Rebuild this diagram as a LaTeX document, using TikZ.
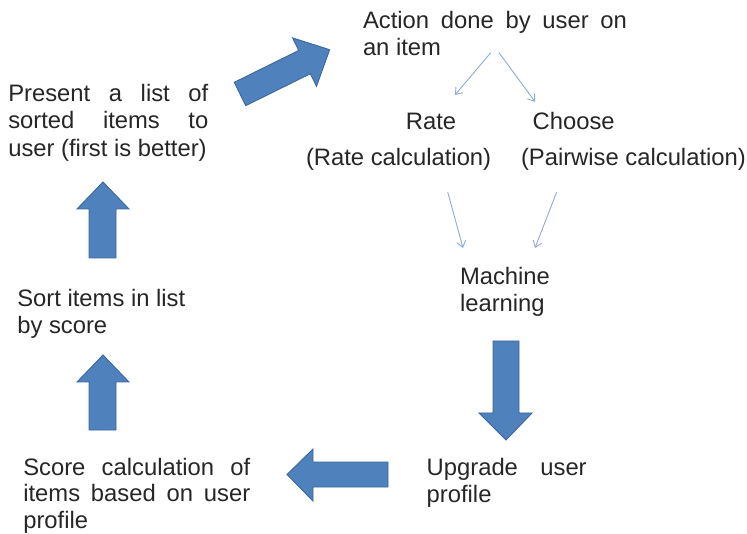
\documentclass[tikz,border=0pt]{standalone}
\usepackage{fontspec}
\setmainfont{Liberation Sans}
\usetikzlibrary{arrows.meta}
\definecolor{blockfill}{HTML}{4F81BD}
\definecolor{blockline}{HTML}{3B679B}
\definecolor{thinline}{HTML}{8FAAD6}
\newcommand{\txtlines}[1]{\parbox[t]{320pt}{#1}}
\newcommand{\jline}[2]{\makebox[#1pt][s]{#2}}
\tikzset{
  lbl/.style={anchor=base west, inner sep=0pt, outer sep=0pt, font=\fontsize{23.8}{27.3}\selectfont, text=black!85},
  blockarrow/.style={fill=blockfill, draw=blockline, line width=0.9pt, line join=miter},
  thinarrow/.style={draw=thinline, line width=0.9pt, -{Straight Barb[length=6pt,width=9pt]}}
}
\begin{document}
\begin{tikzpicture}[x=1pt,y=-1pt]
\useasboundingbox (0,0) rectangle (747,534);
% text nodes
\node[lbl] (action) at (363,28.3) {\txtlines{\jline{264}{Action done by user on}\\an item}};
\node[lbl] (present) at (8.3,101.7) {\txtlines{\jline{200}{Present a list of}\\\jline{200}{sorted items to}\\user (first is better)}};
\node[lbl, anchor=base] (rate) at (431,130) {Rate};
\node[lbl] (ratecalc) at (306,166) {(Rate calculation)};
\node[lbl] (choose) at (532.7,130) {Choose};
\node[lbl] (pair) at (521,166) {(Pairwise calculation)};
\node[lbl] (ml) at (460,284.3) {\txtlines{Machine\\learning}};
\node[lbl] (sort) at (17.3,306.5) {\txtlines{Sort items in list\\by score}};
\node[lbl, font=\fontsize{23.8}{27}\selectfont] (score) at (23.3,475) {\txtlines{\jline{227}{Score calculation of}\\\jline{227}{items based on user}\\profile}};
\node[lbl] (upgrade) at (426.7,475.5) {\txtlines{\jline{160}{Upgrade user}\\profile}};
% thin arrows
\coordinate (a1s) at (490.7,52.7); \coordinate (a1e) at (455,95);
\coordinate (a2s) at (499,52.7);   \coordinate (a2e) at (535,101.7);
\coordinate (a3s) at (447.7,192);  \coordinate (a3e) at (463,248);
\coordinate (a4s) at (556.7,192);  \coordinate (a4e) at (535,248);
\draw[thinarrow] (a1s) -- (a1e);
\draw[thinarrow] (a2s) -- (a2e);
\draw[thinarrow] (a3s) -- (a3e);
\draw[thinarrow] (a4s) -- (a4e);
% diagonal block arrow (present -> action)
\begin{scope}[shift={(240,94)}, rotate=26.3]
\draw[blockarrow] (0,-13) -- (72,-13) -- (72,-27) -- (100,0) -- (72,27) -- (72,13) -- (0,13) -- cycle;
\end{scope}
% up arrow (sort -> present)
\draw[blockarrow] (89,258) -- (89,209) -- (77,209) -- (103,182) -- (129,209) -- (116,209) -- (116,258) -- cycle;
% up arrow (score -> sort)
\draw[blockarrow] (89,430) -- (89,382) -- (77,382) -- (103,355) -- (129,382) -- (116,382) -- (116,430) -- cycle;
% down arrow (ml -> upgrade)
\draw[blockarrow] (493,341) -- (519,341) -- (519,413) -- (532,413) -- (506,440) -- (479,413) -- (493,413) -- cycle;
% left arrow (upgrade -> score)
\draw[blockarrow] (388,462) -- (313,462) -- (313,449) -- (287,474.5) -- (313,501) -- (313,487) -- (388,487) -- cycle;
\end{tikzpicture}
\end{document}
